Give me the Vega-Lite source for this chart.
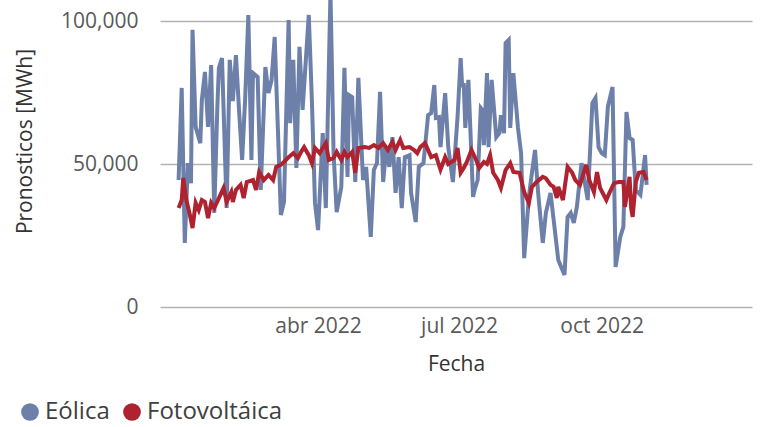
{
"$schema": "https://vega.github.io/schema/vega-lite/v6.json",
"width": 592, "height": 307,
"autosize": {"type": "none"},
"padding": {"left": 160, "top": 0, "right": 16, "bottom": 120},
"background": "white",
"config": {"view": {"stroke": null}, "font": "Open Sans"},
"data": {"values": [
{"fecha":"2022-01-01","tipo":"Eólica","valor":44400},
{"fecha":"2022-01-03","tipo":"Eólica","valor":76600},
{"fecha":"2022-01-05","tipo":"Eólica","valor":22400},
{"fecha":"2022-01-07","tipo":"Eólica","valor":50300},
{"fecha":"2022-01-09","tipo":"Eólica","valor":43300},
{"fecha":"2022-01-10","tipo":"Eólica","valor":96900},
{"fecha":"2022-01-12","tipo":"Eólica","valor":63000},
{"fecha":"2022-01-15","tipo":"Eólica","valor":57300},
{"fecha":"2022-01-16","tipo":"Eólica","valor":72400},
{"fecha":"2022-01-18","tipo":"Eólica","valor":82200},
{"fecha":"2022-01-20","tipo":"Eólica","valor":63000},
{"fecha":"2022-01-22","tipo":"Eólica","valor":84600},
{"fecha":"2022-01-24","tipo":"Eólica","valor":32900},
{"fecha":"2022-01-26","tipo":"Eólica","valor":70000},
{"fecha":"2022-01-27","tipo":"Eólica","valor":83600},
{"fecha":"2022-01-29","tipo":"Eólica","valor":87000},
{"fecha":"2022-02-01","tipo":"Eólica","valor":34600},
{"fecha":"2022-02-03","tipo":"Eólica","valor":86400},
{"fecha":"2022-02-05","tipo":"Eólica","valor":72000},
{"fecha":"2022-02-07","tipo":"Eólica","valor":88100},
{"fecha":"2022-02-09","tipo":"Eólica","valor":68900},
{"fecha":"2022-02-11","tipo":"Eólica","valor":51400},
{"fecha":"2022-02-13","tipo":"Eólica","valor":73400},
{"fecha":"2022-02-15","tipo":"Eólica","valor":102100},
{"fecha":"2022-02-17","tipo":"Eólica","valor":51400},
{"fecha":"2022-02-18","tipo":"Eólica","valor":81800},
{"fecha":"2022-02-21","tipo":"Eólica","valor":80400},
{"fecha":"2022-02-23","tipo":"Eólica","valor":40900},
{"fecha":"2022-02-26","tipo":"Eólica","valor":83900},
{"fecha":"2022-02-28","tipo":"Eólica","valor":74800},
{"fecha":"2022-03-02","tipo":"Eólica","valor":79400},
{"fecha":"2022-03-04","tipo":"Eólica","valor":94400},
{"fecha":"2022-03-08","tipo":"Eólica","valor":32200},
{"fecha":"2022-03-10","tipo":"Eólica","valor":36700},
{"fecha":"2022-03-13","tipo":"Eólica","valor":100300},
{"fecha":"2022-03-14","tipo":"Eólica","valor":64300},
{"fecha":"2022-03-16","tipo":"Eólica","valor":86400},
{"fecha":"2022-03-18","tipo":"Eólica","valor":48600},
{"fecha":"2022-03-20","tipo":"Eólica","valor":91000},
{"fecha":"2022-03-22","tipo":"Eólica","valor":68900},
{"fecha":"2022-03-26","tipo":"Eólica","valor":102100},
{"fecha":"2022-03-28","tipo":"Eólica","valor":72400},
{"fecha":"2022-03-30","tipo":"Eólica","valor":36400},
{"fecha":"2022-04-01","tipo":"Eólica","valor":26900},
{"fecha":"2022-04-04","tipo":"Eólica","valor":60800},
{"fecha":"2022-04-06","tipo":"Eólica","valor":34600},
{"fecha":"2022-04-09","tipo":"Eólica","valor":110000},
{"fecha":"2022-04-11","tipo":"Eólica","valor":53800},
{"fecha":"2022-04-13","tipo":"Eólica","valor":33200},
{"fecha":"2022-04-16","tipo":"Eólica","valor":42000},
{"fecha":"2022-04-18","tipo":"Eólica","valor":83600},
{"fecha":"2022-04-20","tipo":"Eólica","valor":45500},
{"fecha":"2022-04-21","tipo":"Eólica","valor":74100},
{"fecha":"2022-04-23","tipo":"Eólica","valor":73400},
{"fecha":"2022-04-25","tipo":"Eólica","valor":43700},
{"fecha":"2022-04-27","tipo":"Eólica","valor":80100},
{"fecha":"2022-04-30","tipo":"Eólica","valor":44400},
{"fecha":"2022-05-02","tipo":"Eólica","valor":49000},
{"fecha":"2022-05-05","tipo":"Eólica","valor":24500},
{"fecha":"2022-05-07","tipo":"Eólica","valor":47900},
{"fecha":"2022-05-09","tipo":"Eólica","valor":50300},
{"fecha":"2022-05-11","tipo":"Eólica","valor":75200},
{"fecha":"2022-05-13","tipo":"Eólica","valor":43700},
{"fecha":"2022-05-15","tipo":"Eólica","valor":55900},
{"fecha":"2022-05-17","tipo":"Eólica","valor":49000},
{"fecha":"2022-05-19","tipo":"Eólica","valor":59400},
{"fecha":"2022-05-21","tipo":"Eólica","valor":39900},
{"fecha":"2022-05-23","tipo":"Eólica","valor":52400},
{"fecha":"2022-05-25","tipo":"Eólica","valor":34600},
{"fecha":"2022-05-27","tipo":"Eólica","valor":52400},
{"fecha":"2022-05-30","tipo":"Eólica","valor":53100},
{"fecha":"2022-05-31","tipo":"Eólica","valor":39900},
{"fecha":"2022-06-03","tipo":"Eólica","valor":29700},
{"fecha":"2022-06-05","tipo":"Eólica","valor":49000},
{"fecha":"2022-06-08","tipo":"Eólica","valor":50300},
{"fecha":"2022-06-11","tipo":"Eólica","valor":67100},
{"fecha":"2022-06-13","tipo":"Eólica","valor":67800},
{"fecha":"2022-06-15","tipo":"Eólica","valor":77600},
{"fecha":"2022-06-16","tipo":"Eólica","valor":66100},
{"fecha":"2022-06-18","tipo":"Eólica","valor":66400},
{"fecha":"2022-06-19","tipo":"Eólica","valor":55900},
{"fecha":"2022-06-22","tipo":"Eólica","valor":74800},
{"fecha":"2022-06-24","tipo":"Eólica","valor":55900},
{"fecha":"2022-06-27","tipo":"Eólica","valor":43700},
{"fecha":"2022-06-30","tipo":"Eólica","valor":66400},
{"fecha":"2022-07-02","tipo":"Eólica","valor":87000},
{"fecha":"2022-07-03","tipo":"Eólica","valor":76900},
{"fecha":"2022-07-04","tipo":"Eólica","valor":78300},
{"fecha":"2022-07-05","tipo":"Eólica","valor":62600},
{"fecha":"2022-07-07","tipo":"Eólica","valor":79400},
{"fecha":"2022-07-10","tipo":"Eólica","valor":38500},
{"fecha":"2022-07-11","tipo":"Eólica","valor":40900},
{"fecha":"2022-07-13","tipo":"Eólica","valor":44400},
{"fecha":"2022-07-15","tipo":"Eólica","valor":69600},
{"fecha":"2022-07-16","tipo":"Eólica","valor":68900},
{"fecha":"2022-07-17","tipo":"Eólica","valor":56600},
{"fecha":"2022-07-19","tipo":"Eólica","valor":81800},
{"fecha":"2022-07-20","tipo":"Eólica","valor":55900},
{"fecha":"2022-07-22","tipo":"Eólica","valor":79400},
{"fecha":"2022-07-25","tipo":"Eólica","valor":59400},
{"fecha":"2022-07-27","tipo":"Eólica","valor":60800},
{"fecha":"2022-07-28","tipo":"Eólica","valor":67100},
{"fecha":"2022-07-30","tipo":"Eólica","valor":60800},
{"fecha":"2022-07-31","tipo":"Eólica","valor":92300},
{"fecha":"2022-08-02","tipo":"Eólica","valor":93400},
{"fecha":"2022-08-03","tipo":"Eólica","valor":62600},
{"fecha":"2022-08-05","tipo":"Eólica","valor":81800},
{"fecha":"2022-08-08","tipo":"Eólica","valor":62600},
{"fecha":"2022-08-10","tipo":"Eólica","valor":53800},
{"fecha":"2022-08-12","tipo":"Eólica","valor":17100},
{"fecha":"2022-08-15","tipo":"Eólica","valor":38500},
{"fecha":"2022-08-17","tipo":"Eólica","valor":46900},
{"fecha":"2022-08-19","tipo":"Eólica","valor":54900},
{"fecha":"2022-08-21","tipo":"Eólica","valor":39900},
{"fecha":"2022-08-24","tipo":"Eólica","valor":22400},
{"fecha":"2022-08-26","tipo":"Eólica","valor":32900},
{"fecha":"2022-08-29","tipo":"Eólica","valor":39900},
{"fecha":"2022-09-03","tipo":"Eólica","valor":16400},
{"fecha":"2022-09-07","tipo":"Eólica","valor":11200},
{"fecha":"2022-09-09","tipo":"Eólica","valor":31500},
{"fecha":"2022-09-11","tipo":"Eólica","valor":32900},
{"fecha":"2022-09-13","tipo":"Eólica","valor":29400},
{"fecha":"2022-09-15","tipo":"Eólica","valor":35000},
{"fecha":"2022-09-18","tipo":"Eólica","valor":50300},
{"fecha":"2022-09-22","tipo":"Eólica","valor":37400},
{"fecha":"2022-09-25","tipo":"Eólica","valor":71300},
{"fecha":"2022-09-27","tipo":"Eólica","valor":73100},
{"fecha":"2022-09-29","tipo":"Eólica","valor":55900},
{"fecha":"2022-10-01","tipo":"Eólica","valor":53800},
{"fecha":"2022-10-03","tipo":"Eólica","valor":53100},
{"fecha":"2022-10-05","tipo":"Eólica","valor":70000},
{"fecha":"2022-10-08","tipo":"Eólica","valor":76900},
{"fecha":"2022-10-10","tipo":"Eólica","valor":14000},
{"fecha":"2022-10-13","tipo":"Eólica","valor":24500},
{"fecha":"2022-10-15","tipo":"Eólica","valor":28000},
{"fecha":"2022-10-17","tipo":"Eólica","valor":68200},
{"fecha":"2022-10-19","tipo":"Eólica","valor":59100},
{"fecha":"2022-10-21","tipo":"Eólica","valor":58400},
{"fecha":"2022-10-23","tipo":"Eólica","valor":40900},
{"fecha":"2022-10-26","tipo":"Eólica","valor":39200},
{"fecha":"2022-10-29","tipo":"Eólica","valor":53100},
{"fecha":"2022-10-30","tipo":"Eólica","valor":42700},
{"fecha":"2022-01-01","tipo":"Fotovoltáica","valor":34600},
{"fecha":"2022-01-03","tipo":"Fotovoltáica","valor":37400},
{"fecha":"2022-01-04","tipo":"Fotovoltáica","valor":45100},
{"fecha":"2022-01-06","tipo":"Fotovoltáica","valor":37400},
{"fecha":"2022-01-08","tipo":"Fotovoltáica","valor":32900},
{"fecha":"2022-01-10","tipo":"Fotovoltáica","valor":27600},
{"fecha":"2022-01-12","tipo":"Fotovoltáica","valor":36400},
{"fecha":"2022-01-14","tipo":"Fotovoltáica","valor":33900},
{"fecha":"2022-01-16","tipo":"Fotovoltáica","valor":37400},
{"fecha":"2022-01-18","tipo":"Fotovoltáica","valor":36700},
{"fecha":"2022-01-20","tipo":"Fotovoltáica","valor":31100},
{"fecha":"2022-01-22","tipo":"Fotovoltáica","valor":36400},
{"fecha":"2022-01-24","tipo":"Fotovoltáica","valor":34600},
{"fecha":"2022-01-27","tipo":"Fotovoltáica","valor":38100},
{"fecha":"2022-01-30","tipo":"Fotovoltáica","valor":41600},
{"fecha":"2022-02-01","tipo":"Fotovoltáica","valor":36700},
{"fecha":"2022-02-04","tipo":"Fotovoltáica","valor":40200},
{"fecha":"2022-02-05","tipo":"Fotovoltáica","valor":36700},
{"fecha":"2022-02-07","tipo":"Fotovoltáica","valor":40900},
{"fecha":"2022-02-10","tipo":"Fotovoltáica","valor":42700},
{"fecha":"2022-02-12","tipo":"Fotovoltáica","valor":38100},
{"fecha":"2022-02-14","tipo":"Fotovoltáica","valor":43700},
{"fecha":"2022-02-18","tipo":"Fotovoltáica","valor":44400},
{"fecha":"2022-02-20","tipo":"Fotovoltáica","valor":40900},
{"fecha":"2022-02-22","tipo":"Fotovoltáica","valor":47200},
{"fecha":"2022-02-25","tipo":"Fotovoltáica","valor":44400},
{"fecha":"2022-02-28","tipo":"Fotovoltáica","valor":46200},
{"fecha":"2022-03-03","tipo":"Fotovoltáica","valor":44400},
{"fecha":"2022-03-05","tipo":"Fotovoltáica","valor":49000},
{"fecha":"2022-03-08","tipo":"Fotovoltáica","valor":49700},
{"fecha":"2022-03-10","tipo":"Fotovoltáica","valor":50700},
{"fecha":"2022-03-13","tipo":"Fotovoltáica","valor":52400},
{"fecha":"2022-03-16","tipo":"Fotovoltáica","valor":53800},
{"fecha":"2022-03-19","tipo":"Fotovoltáica","valor":52100},
{"fecha":"2022-03-21","tipo":"Fotovoltáica","valor":54200},
{"fecha":"2022-03-23","tipo":"Fotovoltáica","valor":55900},
{"fecha":"2022-03-26","tipo":"Fotovoltáica","valor":53100},
{"fecha":"2022-03-28","tipo":"Fotovoltáica","valor":50300},
{"fecha":"2022-03-30","tipo":"Fotovoltáica","valor":55600},
{"fecha":"2022-04-02","tipo":"Fotovoltáica","valor":53800},
{"fecha":"2022-04-04","tipo":"Fotovoltáica","valor":55600},
{"fecha":"2022-04-06","tipo":"Fotovoltáica","valor":57300},
{"fecha":"2022-04-08","tipo":"Fotovoltáica","valor":51400},
{"fecha":"2022-04-11","tipo":"Fotovoltáica","valor":52100},
{"fecha":"2022-04-13","tipo":"Fotovoltáica","valor":54200},
{"fecha":"2022-04-16","tipo":"Fotovoltáica","valor":51400},
{"fecha":"2022-04-18","tipo":"Fotovoltáica","valor":54200},
{"fecha":"2022-04-20","tipo":"Fotovoltáica","valor":52400},
{"fecha":"2022-04-23","tipo":"Fotovoltáica","valor":54200},
{"fecha":"2022-04-25","tipo":"Fotovoltáica","valor":46900},
{"fecha":"2022-04-27","tipo":"Fotovoltáica","valor":55600},
{"fecha":"2022-05-01","tipo":"Fotovoltáica","valor":55900},
{"fecha":"2022-05-04","tipo":"Fotovoltáica","valor":55600},
{"fecha":"2022-05-07","tipo":"Fotovoltáica","valor":56600},
{"fecha":"2022-05-10","tipo":"Fotovoltáica","valor":55600},
{"fecha":"2022-05-13","tipo":"Fotovoltáica","valor":57300},
{"fecha":"2022-05-16","tipo":"Fotovoltáica","valor":54900},
{"fecha":"2022-05-19","tipo":"Fotovoltáica","valor":57700},
{"fecha":"2022-05-21","tipo":"Fotovoltáica","valor":54900},
{"fecha":"2022-05-24","tipo":"Fotovoltáica","valor":58400},
{"fecha":"2022-05-26","tipo":"Fotovoltáica","valor":55600},
{"fecha":"2022-05-30","tipo":"Fotovoltáica","valor":55900},
{"fecha":"2022-06-02","tipo":"Fotovoltáica","valor":54900},
{"fecha":"2022-06-04","tipo":"Fotovoltáica","valor":53800},
{"fecha":"2022-06-06","tipo":"Fotovoltáica","valor":55900},
{"fecha":"2022-06-09","tipo":"Fotovoltáica","valor":57300},
{"fecha":"2022-06-13","tipo":"Fotovoltáica","valor":52400},
{"fecha":"2022-06-16","tipo":"Fotovoltáica","valor":53100},
{"fecha":"2022-06-19","tipo":"Fotovoltáica","valor":48000},
{"fecha":"2022-06-22","tipo":"Fotovoltáica","valor":52400},
{"fecha":"2022-06-24","tipo":"Fotovoltáica","valor":50000},
{"fecha":"2022-06-28","tipo":"Fotovoltáica","valor":51400},
{"fecha":"2022-06-30","tipo":"Fotovoltáica","valor":55600},
{"fecha":"2022-07-02","tipo":"Fotovoltáica","valor":46900},
{"fecha":"2022-07-04","tipo":"Fotovoltáica","valor":48600},
{"fecha":"2022-07-06","tipo":"Fotovoltáica","valor":50700},
{"fecha":"2022-07-09","tipo":"Fotovoltáica","valor":54900},
{"fecha":"2022-07-12","tipo":"Fotovoltáica","valor":51400},
{"fecha":"2022-07-14","tipo":"Fotovoltáica","valor":48600},
{"fecha":"2022-07-17","tipo":"Fotovoltáica","valor":50700},
{"fecha":"2022-07-19","tipo":"Fotovoltáica","valor":50000},
{"fecha":"2022-07-21","tipo":"Fotovoltáica","valor":53100},
{"fecha":"2022-07-23","tipo":"Fotovoltáica","valor":46900},
{"fecha":"2022-07-26","tipo":"Fotovoltáica","valor":44400},
{"fecha":"2022-07-28","tipo":"Fotovoltáica","valor":41600},
{"fecha":"2022-07-31","tipo":"Fotovoltáica","valor":47900},
{"fecha":"2022-08-03","tipo":"Fotovoltáica","valor":50300},
{"fecha":"2022-08-05","tipo":"Fotovoltáica","valor":47200},
{"fecha":"2022-08-09","tipo":"Fotovoltáica","valor":46900},
{"fecha":"2022-08-12","tipo":"Fotovoltáica","valor":40200},
{"fecha":"2022-08-15","tipo":"Fotovoltáica","valor":36400},
{"fecha":"2022-08-17","tipo":"Fotovoltáica","valor":42000},
{"fecha":"2022-08-20","tipo":"Fotovoltáica","valor":43700},
{"fecha":"2022-08-24","tipo":"Fotovoltáica","valor":45500},
{"fecha":"2022-08-26","tipo":"Fotovoltáica","valor":45000},
{"fecha":"2022-08-29","tipo":"Fotovoltáica","valor":42700},
{"fecha":"2022-08-31","tipo":"Fotovoltáica","valor":42000},
{"fecha":"2022-09-02","tipo":"Fotovoltáica","valor":38100},
{"fecha":"2022-09-03","tipo":"Fotovoltáica","valor":42000},
{"fecha":"2022-09-06","tipo":"Fotovoltáica","valor":37400},
{"fecha":"2022-09-09","tipo":"Fotovoltáica","valor":49000},
{"fecha":"2022-09-12","tipo":"Fotovoltáica","valor":46900},
{"fecha":"2022-09-14","tipo":"Fotovoltáica","valor":44400},
{"fecha":"2022-09-17","tipo":"Fotovoltáica","valor":42700},
{"fecha":"2022-09-21","tipo":"Fotovoltáica","valor":49700},
{"fecha":"2022-09-23","tipo":"Fotovoltáica","valor":44400},
{"fecha":"2022-09-26","tipo":"Fotovoltáica","valor":40200},
{"fecha":"2022-09-28","tipo":"Fotovoltáica","valor":47200},
{"fecha":"2022-09-30","tipo":"Fotovoltáica","valor":41600},
{"fecha":"2022-10-04","tipo":"Fotovoltáica","valor":37400},
{"fecha":"2022-10-06","tipo":"Fotovoltáica","valor":39900},
{"fecha":"2022-10-09","tipo":"Fotovoltáica","valor":43300},
{"fecha":"2022-10-12","tipo":"Fotovoltáica","valor":43700},
{"fecha":"2022-10-15","tipo":"Fotovoltáica","valor":43700},
{"fecha":"2022-10-16","tipo":"Fotovoltáica","valor":35000},
{"fecha":"2022-10-19","tipo":"Fotovoltáica","valor":45500},
{"fecha":"2022-10-20","tipo":"Fotovoltáica","valor":34600},
{"fecha":"2022-10-21","tipo":"Fotovoltáica","valor":31500},
{"fecha":"2022-10-23","tipo":"Fotovoltáica","valor":43700},
{"fecha":"2022-10-25","tipo":"Fotovoltáica","valor":46900},
{"fecha":"2022-10-28","tipo":"Fotovoltáica","valor":47200},
{"fecha":"2022-10-30","tipo":"Fotovoltáica","valor":44400}
]},
"mark": {"type": "line", "strokeWidth": 4, "clip": true},
"encoding": {
  "x": {"field": "fecha", "type": "temporal",
    "scale": {"type": "utc", "domain": [{"year": 2021, "month": 12, "date": 20, "utc": true}, {"year": 2023, "month": 1, "date": 6, "utc": true}]},
    "axis": {"title": "Fecha", "values": [{"year": 2022, "month": 4, "date": 1, "utc": true}, {"year": 2022, "month": 7, "date": 1, "utc": true}, {"year": 2022, "month": 10, "date": 1, "utc": true}],
      "labelExpr": "['ene','feb','mar','abr','may','jun','jul','ago','sep','oct','nov','dic'][utcmonth(datum.value)] + ' ' + utcyear(datum.value)",
      "grid": false, "domain": false, "ticks": false, "labelFontSize": 21, "labelColor": "#595959", "labelPadding": 8,
      "titleFontSize": 21, "titleFontWeight": "normal", "titleColor": "#333333", "titleY": 57, "titleBaseline": "middle"}},
  "y": {"field": "valor", "type": "quantitative",
    "scale": {"domain": [0, 107343], "nice": false, "zero": true},
    "axis": {"title": "Pronosticos [MWh]", "values": [0, 50000, 100000], "format": ",d",
      "grid": true, "gridColor": "#b3b3b3", "gridWidth": 1.5, "domain": false, "ticks": false,
      "labelFontSize": 21, "labelColor": "#595959", "labelPadding": 22,
      "titleFontSize": 21, "titleFontWeight": "normal", "titleColor": "#333333",
      "titleAngle": -90, "titleX": -135, "titleY": 141, "titleAlign": "center", "titleBaseline": "middle"}},
  "color": {"field": "tipo", "type": "nominal",
    "scale": {"domain": ["Eólica", "Fotovoltáica"], "range": ["#6C80A9", "#AF2331"]},
    "legend": {"title": null, "orient": "none", "legendX": -142, "legendY": 400, "direction": "horizontal",
      "symbolType": "circle", "symbolSize": 314, "symbolStrokeWidth": 0, "labelFontSize": 24, "labelColor": "#404040",
      "labelOffset": 3, "columnPadding": 10, "padding": 0,
      "encode": {"symbols": {"update": {"fill": {"scale": "color", "field": "value"}, "fillOpacity": {"value": 1}}}}}}
}
}
